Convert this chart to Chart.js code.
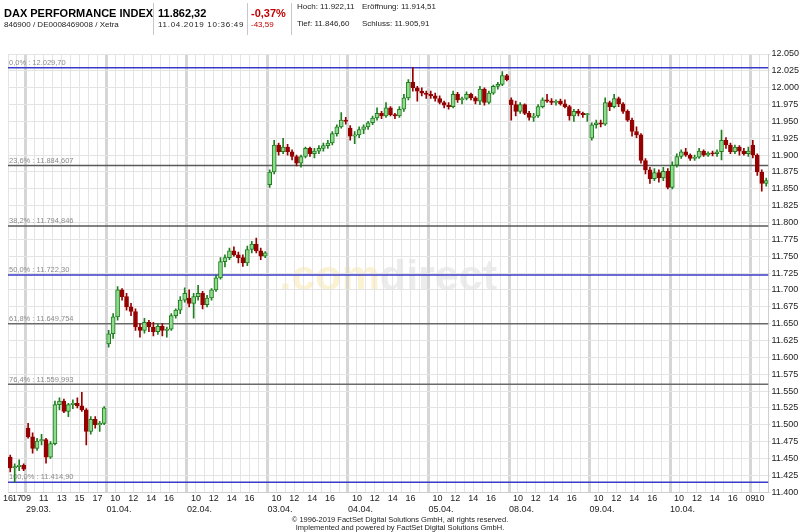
<!DOCTYPE html>
<html lang="de">
<head>
    <meta charset="UTF-8">
    <title>DAX PERFORMANCE INDEX</title>
    <script src="https://cdn.jsdelivr.net/npm/chart.js"></script>
    <style>
        html, body { margin: 0; padding: 0; background: #fff; }
        body { width: 800px; height: 532px; position: relative; overflow: hidden;
               font-family: "Liberation Sans", Arial, sans-serif; }
        #myChart { position: absolute; left: 0; top: 0; }
        .t { position: absolute; white-space: nowrap; line-height: 1; color: #000; }
        .big { font-size: 11px; font-weight: bold; }
        .small { font-size: 8px; color: #222; }
        .red { color: #c00000; }
        .sep { position: absolute; top: 3px; width: 1px; height: 32px; background: #c8c8c8; }
        .foot { position: absolute; left: 0; width: 800px; text-align: center; font-size: 7.5px; line-height: 1; color: #222; }
    </style>
</head>
<body>
    <canvas id="myChart" width="800" height="532"></canvas>

    <div class="t big" style="left:4px; top:8px;">DAX PERFORMANCE INDEX</div>
    <div class="t small" style="left:4px; top:21px;">846900 / DE0008469008 / Xetra</div>
    <div class="sep" style="left:153px;"></div>
    <div class="t big" style="left:158px; top:8px;">11.862,32</div>
    <div class="t small" style="left:158px; top:21px; letter-spacing:0.7px;">11.04.2019 10:36:49</div>
    <div class="sep" style="left:247px;"></div>
    <div class="t big red" style="left:251px; top:8px;">-0,37%</div>
    <div class="t small red" style="left:251px; top:21px;">-43,59</div>
    <div class="sep" style="left:291px;"></div>
    <div class="t small" style="left:297px; top:3px;">Hoch: 11.922,11</div>
    <div class="t small" style="left:297px; top:20px;">Tief: 11.846,60</div>
    <div class="t small" style="left:362px; top:3px;">Eröffnung: 11.914,51</div>
    <div class="t small" style="left:362px; top:20px;">Schluss: 11.905,91</div>

    <div class="foot" style="top:516px;">© 1996-2019 FactSet Digital Solutions GmbH, all rights reserved.</div>
    <div class="foot" style="top:524px;">Implemented and powered by FactSet Digital Solutions GmbH.</div>

    <script>
        // trading days shown (28.03. only its last hours)
        const dayLabels = ['28.03.', '29.03.', '01.04.', '02.04.', '03.04.', '04.04.',
                           '05.04.', '08.04.', '09.04.', '10.04.', '11.04.'];
        const dayFirstHour = [16, 9, 9, 9, 9, 9, 9, 9, 9, 9, 9];
        const candlesPerDay = [4, 18, 18, 18, 18, 18, 18, 18, 18, 18, 4];
        // hour labels printed under each day
        const tickHours = [[16, 17], [9, 11, 13, 15, 17], [10, 12, 14, 16], [10, 12, 14, 16],
                           [10, 12, 14, 16], [10, 12, 14, 16], [10, 12, 14, 16], [10, 12, 14, 16],
                           [10, 12, 14, 16], [10, 12, 14, 16], [9, 10]];
        const dateLabelDays = [1, 2, 3, 4, 5, 6, 7, 8, 9];

        // 30-minute candles
        const opens = [
            11452, 11436, 11438, 11440,
            11495, 11482, 11465, 11476, 11478, 11452, 11472, 11530, 11535, 11520, 11530, 11532, 11528, 11522, 11490, 11508, 11500, 11502,
            11620, 11635, 11660, 11700, 11690, 11675, 11668, 11645, 11640, 11652, 11645, 11638, 11646, 11640, 11642, 11662, 11670, 11685,
            11688, 11680, 11690, 11695, 11678, 11688, 11700, 11718, 11742, 11748, 11758, 11752, 11748, 11740, 11760, 11768, 11758, 11750,
            11856, 11875, 11915, 11905, 11912, 11905, 11898, 11888, 11898, 11910, 11902, 11906, 11910, 11914, 11918, 11932, 11942, 11952,
            11940, 11928, 11930, 11938, 11942, 11948, 11955, 11962, 11958, 11970, 11960, 11958, 11968, 11985, 12008, 12000, 11995, 11992,
            11990, 11988, 11984, 11978, 11974, 11972, 11990, 11982, 11984, 11990, 11985, 11980, 11998, 11978, 11992, 12002, 12005, 12018,
            11982, 11975, 11965, 11975, 11962, 11956, 11958, 11972, 11982, 11980, 11978, 11980, 11976, 11972, 11958, 11965, 11962, 11960,
            11925, 11945, 11948, 11946, 11978, 11972, 11984, 11976, 11965, 11952, 11935, 11930, 11892, 11878, 11865, 11874, 11866, 11876,
            11852, 11885, 11898, 11905, 11900, 11895, 11897, 11906, 11900, 11903, 11902, 11905, 11922, 11915, 11905, 11912, 11906, 11902,
            11914.51, 11900, 11875, 11858
        ];
        const highs = [
            11455, 11442, 11448, 11442,
            11502, 11488, 11480, 11486, 11480, 11475, 11535, 11540, 11538, 11532, 11537, 11540, 11548, 11524, 11512, 11512, 11505, 11527,
            11640, 11665, 11705, 11702, 11695, 11680, 11672, 11650, 11658, 11655, 11652, 11650, 11650, 11645, 11665, 11672, 11690, 11703,
            11700, 11695, 11707, 11698, 11692, 11702, 11722, 11748, 11752, 11762, 11764, 11756, 11752, 11765, 11772, 11777, 11762, 11757,
            11878, 11922, 11918, 11925, 11916, 11908, 11900, 11900, 11912, 11912, 11910, 11914, 11918, 11922, 11935, 11945, 11963, 11956,
            11944, 11935, 11942, 11945, 11950, 11958, 11970, 11965, 11978, 11972, 11962, 11972, 11990, 12012, 12029.7, 12002, 12000, 11995,
            11995, 11992, 11988, 11980, 11978, 11995, 11993, 11986, 11994, 11992, 11987, 12002, 12000, 11995, 12004, 12008, 12024, 12020,
            11985, 11980, 11978, 11976, 11965, 11962, 11975, 11985, 11990, 11984, 11982, 11983, 11982, 11974, 11968, 11968, 11964, 11962,
            11948, 11952, 11952, 11985, 11980, 11990, 11986, 11978, 11967, 11955, 11942, 11932, 11895, 11882, 11880, 11878, 11882, 11880,
            11890, 11902, 11908, 11910, 11902, 11900, 11910, 11908, 11905, 11906, 11908, 11937, 11926, 11918, 11915, 11914, 11910, 11912,
            11922.11, 11902, 11878, 11866
        ];
        const lows = [
            11430, 11414.9, 11432, 11432,
            11480, 11458, 11462, 11470, 11443, 11450, 11470, 11522, 11518, 11512, 11524, 11525, 11520, 11470, 11486, 11495, 11490, 11500,
            11615, 11628, 11655, 11685, 11670, 11662, 11640, 11630, 11636, 11638, 11632, 11634, 11632, 11630, 11640, 11658, 11665, 11682,
            11675, 11658, 11685, 11672, 11675, 11685, 11698, 11716, 11734, 11745, 11750, 11740, 11735, 11736, 11755, 11755, 11745, 11748,
            11852, 11872, 11900, 11902, 11900, 11893, 11884, 11882, 11896, 11898, 11896, 11902, 11906, 11910, 11915, 11928, 11940, 11946,
            11922, 11917, 11926, 11932, 11938, 11945, 11952, 11954, 11956, 11958, 11954, 11956, 11965, 11982, 11995, 11980, 11988, 11984,
            11984, 11980, 11976, 11970, 11968, 11970, 11978, 11976, 11982, 11982, 11976, 11975, 11974, 11976, 11990, 11998, 12003, 12010,
            11952, 11958, 11962, 11960, 11952, 11950, 11956, 11970, 11978, 11975, 11974, 11974, 11970, 11952, 11950, 11958, 11956, 11950,
            11922, 11940, 11942, 11944, 11966, 11970, 11972, 11962, 11950, 11928, 11926, 11888, 11872, 11858, 11862, 11860, 11862, 11850,
            11850, 11882, 11895, 11898, 11892, 11892, 11895, 11898, 11898, 11899, 11898, 11893, 11910, 11902, 11902, 11900, 11900, 11898,
            11896, 11870, 11846.6, 11854
        ];
        const closes = [
            11436, 11438, 11440, 11434,
            11482, 11465, 11476, 11478, 11452, 11472, 11530, 11535, 11520, 11530, 11532, 11528, 11522, 11490, 11508, 11500, 11502, 11525,
            11635, 11660, 11700, 11690, 11675, 11668, 11645, 11640, 11652, 11645, 11638, 11646, 11640, 11642, 11662, 11670, 11685, 11695,
            11680, 11690, 11695, 11678, 11688, 11700, 11718, 11742, 11748, 11758, 11752, 11748, 11740, 11760, 11768, 11758, 11750, 11755,
            11875, 11915, 11905, 11912, 11905, 11898, 11888, 11898, 11910, 11902, 11906, 11910, 11914, 11918, 11932, 11942, 11952, 11950,
            11928, 11930, 11938, 11942, 11948, 11955, 11962, 11958, 11970, 11960, 11958, 11968, 11985, 12008, 12000, 11995, 11992, 11990,
            11988, 11984, 11978, 11974, 11972, 11990, 11982, 11984, 11990, 11985, 11980, 11998, 11978, 11992, 12002, 12005, 12018, 12012,
            11975, 11965, 11975, 11962, 11956, 11958, 11972, 11982, 11980, 11978, 11980, 11976, 11972, 11958, 11965, 11962, 11960, 11960,
            11945, 11948, 11946, 11978, 11972, 11984, 11976, 11965, 11952, 11935, 11930, 11892, 11878, 11865, 11874, 11866, 11876, 11852,
            11885, 11898, 11905, 11900, 11895, 11897, 11906, 11900, 11903, 11902, 11905, 11922, 11915, 11905, 11912, 11906, 11902, 11906,
            11900, 11875, 11858, 11862.32
        ];

        // Fibonacci retracement levels
        const fibLabels = ['0,0% : 12.029,70', '23,6% : 11.884,607', '38,2% : 11.794,846', '50,0% : 11.722,30',
                           '61,8% : 11.649,754', '76,4% : 11.559,993', '100,0% : 11.414,90'];
        const fibValues = [12029.70, 11884.607, 11794.846, 11722.30, 11649.754, 11559.993, 11414.90];
        const fibColors = ['#3a3ac8', '#5a5a5a', '#5a5a5a', '#3a3ac8', '#6a6a6a', '#6a6a6a', '#3a3ac8'];

        const yMin = 11400, yMax = 12050, yStep = 25;
        const xMin = 7, xMax = 92;   // hours on a 9h-per-day session axis

        const FONT = '"Liberation Sans", Arial, sans-serif';
        const UP_FILL = '#8fdc8f', UP_LINE = '#1f7f1f';
        const DOWN_FILL = '#960000', DOWN_LINE = '#960000';

        const candleX = [];
        dayLabels.forEach((d, day) => {
            for (let k = 0; k < candlesPerDay[day]; k++) {
                candleX.push(day * 9 + dayFirstHour[day] - 9 + k * 0.5 + 0.25);
            }
        });
        const bodies = candleX.map((x, i) => ({x, y: [opens[i], closes[i]]}));
        const wicks = candleX.map((x, i) => ({x, y: [lows[i], highs[i]]}));
        const isUp = i => closes[i] >= opens[i];

        const hourTicks = [];
        for (let v = xMin; v <= xMax; v++) hourTicks.push({value: v});
        const hourLabel = v => {
            const day = Math.floor(v / 9);
            const h = v - day * 9 + 9;
            if (!tickHours[day] || !tickHours[day].includes(h)) return '';
            return String(h).padStart(2, '0');
        };

        const watermarkPlugin = {
            id: 'watermarkPlugin',
            beforeDraw(chart) {
                const {ctx, chartArea} = chart;
                ctx.save();
                ctx.font = 'bold 43px ' + FONT;
                const a = '.com', b = 'direct';
                const wa = ctx.measureText(a).width;
                const wb = ctx.measureText(b).width;
                const x0 = (chartArea.left + chartArea.right) / 2 - (wa + wb) / 2;
                const y0 = (chartArea.top + chartArea.bottom) / 2 + 17;
                ctx.fillStyle = '#fbf2d2';
                ctx.fillText(a, x0, y0);
                ctx.fillStyle = '#ececec';
                ctx.fillText(b, x0 + wa, y0);
                ctx.restore();
            }
        };

        const fibLabelPlugin = {
            id: 'fibLabelPlugin',
            beforeDatasetsDraw(chart) {
                const {ctx, chartArea} = chart;
                const y = chart.scales.y;
                ctx.save();
                ctx.font = '7.5px ' + FONT;
                ctx.fillStyle = '#8c8c8c';
                ctx.textBaseline = 'bottom';
                fibValues.forEach((v, i) => {
                    ctx.fillText(fibLabels[i], chartArea.left + 1, y.getPixelForValue(v) - 1);
                });
                ctx.restore();
            }
        };

        const fibSets = fibValues.map((v, i) => ({
            type: 'line',
            data: [{x: xMin, y: v}, {x: xMax, y: v}],
            borderColor: fibColors[i],
            borderWidth: 1.5,
            pointRadius: 0,
            order: 3
        }));

        const config = {
            type: 'bar',
            data: {
                datasets: [
                    ...fibSets,
                    {
                        data: wicks,
                        grouped: false,
                        barThickness: 1,
                        backgroundColor: c => isUp(c.dataIndex) ? UP_LINE : DOWN_LINE,
                        borderWidth: 0,
                        order: 2
                    },
                    {
                        data: bodies,
                        grouped: false,
                        barThickness: 4,
                        minBarLength: 1,
                        backgroundColor: c => isUp(c.dataIndex) ? UP_FILL : DOWN_FILL,
                        borderColor: c => isUp(c.dataIndex) ? UP_LINE : DOWN_LINE,
                        borderWidth: 1,
                        borderSkipped: false,
                        order: 1
                    }
                ]
            },
            options: {
                responsive: false,
                animation: false,
                layout: { padding: { left: 8, top: 54, right: 0, bottom: 18 } },
                plugins: {
                    legend: { display: false },
                    tooltip: { enabled: false }
                },
                scales: {
                    x: {
                        type: 'linear',
                        min: xMin, max: xMax,
                        offset: false,
                        weight: 0,
                        afterBuildTicks: s => { s.ticks = hourTicks.map(t => ({value: t.value})); },
                        ticks: {
                            autoSkip: false, maxRotation: 0, padding: 1,
                            font: { size: 9, family: FONT }, color: '#222',
                            callback: v => hourLabel(v)
                        },
                        grid: {
                            offset: false,
                            drawTicks: false,
                            color: c => (c.tick && c.tick.value % 9 === 0) ? '#d6d6d6' : '#e4e4e4',
                            lineWidth: c => (c.tick && c.tick.value % 9 === 0) ? 3 : 1
                        },
                        border: { color: '#cfcfcf' }
                    },
                    x2: {
                        type: 'linear',
                        position: 'bottom',
                        min: xMin, max: xMax,
                        offset: false,
                        weight: 1,
                        afterBuildTicks: s => { s.ticks = dateLabelDays.map(d => ({value: d * 9})); },
                        ticks: {
                            autoSkip: false, maxRotation: 0, padding: 0, align: 'start',
                            font: { size: 9, family: FONT, lineHeight: 1 }, color: '#222',
                            callback: v => dayLabels[Math.round(v / 9)]
                        },
                        grid: { display: false, drawTicks: false },
                        border: { display: false }
                    },
                    y: {
                        position: 'right',
                        min: yMin, max: yMax,
                        beginAtZero: false,
                        ticks: {
                            stepSize: yStep, padding: 1,
                            font: { size: 9, family: FONT }, color: '#222',
                            callback: v => v.toLocaleString('de-DE')
                        },
                        grid: { color: '#e4e4e4', tickLength: 2 },
                        border: { color: '#cfcfcf' }
                    }
                }
            },
            plugins: [watermarkPlugin, fibLabelPlugin]
        };

        const ctx = document.getElementById('myChart').getContext('2d');
        new Chart(ctx, config);
    </script>
</body>
</html>
